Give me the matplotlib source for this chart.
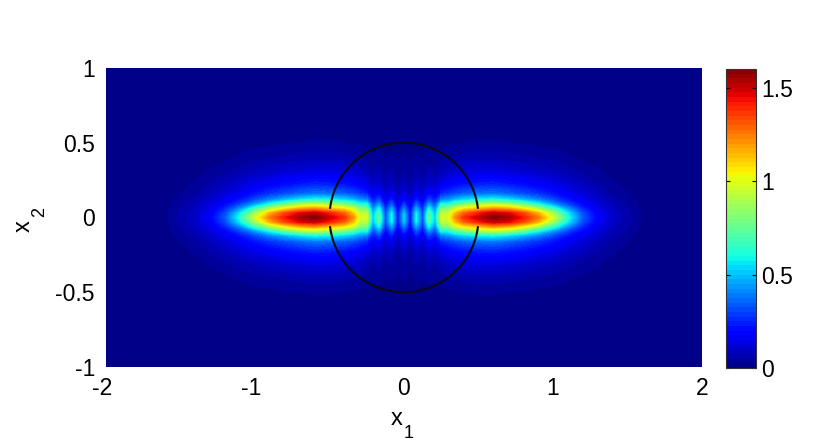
import numpy as np
import matplotlib
matplotlib.use("Agg")
import matplotlib.pyplot as plt
from matplotlib.colors import ListedColormap
from matplotlib.transforms import ScaledTranslation

plt.rcParams['font.family'] = ['Liberation Sans', 'DejaVu Sans']

# Field: one quadrant, columns are |x1|, rows are |x2|
x1_abs = [0, .042, .083, .125, .167, .21, .25, .295, .34, .4, .5, .6, .7, .8, .9, 1.0, 1.1, 1.2, 1.3, 1.4, 1.6, 1.75, 2.0]
x2_abs = [0, .03, .06, .09, .12, .16, .22, .3, .4, .5, .6, .7, 1.0]
field = [
    [.52, .2, .6, .3, .74, .5, .98, .97, 1.2, 1.38, 1.5, 1.6, 1.55, 1.42, 1.25, .97, .62, .33, .18, .1, .02, 0, 0],
    [.49, .2, .57, .29, .7, .47, .93, .92, 1.12, 1.28, 1.4, 1.5, 1.45, 1.33, 1.15, .86, .56, .31, .17, .095, .02, 0, 0],
    [.39, .17, .46, .24, .58, .4, .78, .8, .95, 1.05, 1.13, 1.2, 1.16, 1.04, .88, .66, .42, .25, .15, .085, .015, 0, 0],
    [.28, .13, .34, .19, .43, .31, .6, .6, .7, .78, .86, .92, .86, .75, .6, .44, .3, .19, .125, .075, .012, 0, 0],
    [.2, .1, .24, .15, .3, .23, .4, .42, .48, .53, .58, .6, .55, .48, .4, .31, .22, .155, .105, .06, .01, 0, 0],
    [.14, .08, .16, .11, .2, .16, .25, .28, .31, .34, .37, .38, .35, .31, .27, .22, .165, .12, .08, .045, .006, 0, 0],
    [.09, .05, .1, .07, .12, .1, .15, .17, .2, .22, .24, .25, .23, .21, .18, .15, .115, .085, .055, .03, .003, 0, 0],
    [.05, .035, .06, .04, .07, .05, .08, .1, .11, .13, .14, .14, .13, .115, .1, .085, .065, .045, .03, .015, 0, 0, 0],
    [.03, .02, .03, .025, .035, .03, .04, .045, .05, .06, .065, .065, .06, .055, .045, .04, .03, .02, .01, .004, 0, 0, 0],
    [.015, .01, .015, .01, .015, .01, .015, .02, .02, .025, .028, .028, .025, .022, .018, .015, .01, .005, 0, 0, 0, 0, 0],
    [.003, .003, .003, .003, .003, .003, .003, .005, .005, .005, .006, .006, .006, .005, .004, .003, 0, 0, 0, 0, 0, 0, 0],
    [0] * 23,
    [0] * 23,
]
xticks = [-2, -1, 0, 1, 2]
yticks = [-1, -0.5, 0, 0.5, 1]
cticks = [0, 0.5, 1, 1.5]
vmax = 1.6
circle_radius = 0.5

W, H = 830, 446
fig = plt.figure(figsize=(W / 100, H / 100), dpi=100)
ax = fig.add_axes([106 / W, 1 - 367 / H, (702 - 106) / W, (367 - 68) / H])
cax = fig.add_axes([726 / W, 1 - 368 / H, 30 / W, 299 / H])

half_x = np.array(x1_abs)
half_y = np.array(x2_abs)
q = np.array(field)
xs = np.concatenate([-half_x[:0:-1], half_x])
ys = np.concatenate([-half_y[:0:-1], half_y])
z = np.hstack([q[:, :0:-1], q])
z = np.vstack([z[:0:-1], z])

levels = np.linspace(0, vmax, 65)
jet64 = ListedColormap(plt.get_cmap('jet')(np.linspace(0.008, 0.992, 64)))
cs = ax.contourf(xs, ys, z, levels=levels, cmap=jet64, vmin=0, vmax=vmax)

# circle, hidden where it crosses the two lobes
gap = np.arcsin(0.065 / circle_radius)
for t0, t1 in [(gap, np.pi - gap), (np.pi + gap, 2 * np.pi - gap)]:
    t = np.linspace(t0, t1, 200)
    ax.plot(circle_radius * np.cos(t), circle_radius * np.sin(t), color='#0a0a14', lw=1.5)

ax.set_xlim(-2, 2)
ax.set_ylim(-1, 1)
for s in ax.spines.values():
    s.set_visible(False)
ax.set_xticks(xticks, [str(v) for v in xticks], fontsize=16.5)
ax.set_yticks(yticks, [f'{v:g}' for v in yticks], fontsize=16.5)
ax.tick_params(axis='x', length=0, pad=7)
ax.tick_params(axis='y', length=0, pad=8)
shift = ScaledTranslation(-4 / 100, 0, fig.dpi_scale_trans)
for lab, v in zip(ax.get_xticklabels(), xticks):
    if v < 0:
        lab.set_transform(lab.get_transform() + shift)

# axis labels with a low MATLAB-style subscript
fig.text(391 / W, 1 - 425 / H, 'x', fontsize=17, ha='left', va='baseline')
fig.text(404 / W, 1 - 438 / H, '1', fontsize=13, ha='left', va='baseline')
fig.text(30 / W, 1 - 232 / H, 'x', fontsize=17, rotation=90, rotation_mode='anchor', ha='left', va='baseline')
fig.text(44 / W, 1 - 217 / H, '2', fontsize=13, rotation=90, rotation_mode='anchor', ha='left', va='baseline')

cb = fig.colorbar(cs, cax=cax)
cb.set_ticks(cticks, labels=[f'{v:g}' for v in cticks])
cb.ax.tick_params(labelsize=16.5, direction='in', length=3, left=True, right=True, width=0.8, pad=4)
cb.outline.set_linewidth(0.8)
cb.outline.set_edgecolor('#333333')

fig.savefig('out.png', dpi=100)
